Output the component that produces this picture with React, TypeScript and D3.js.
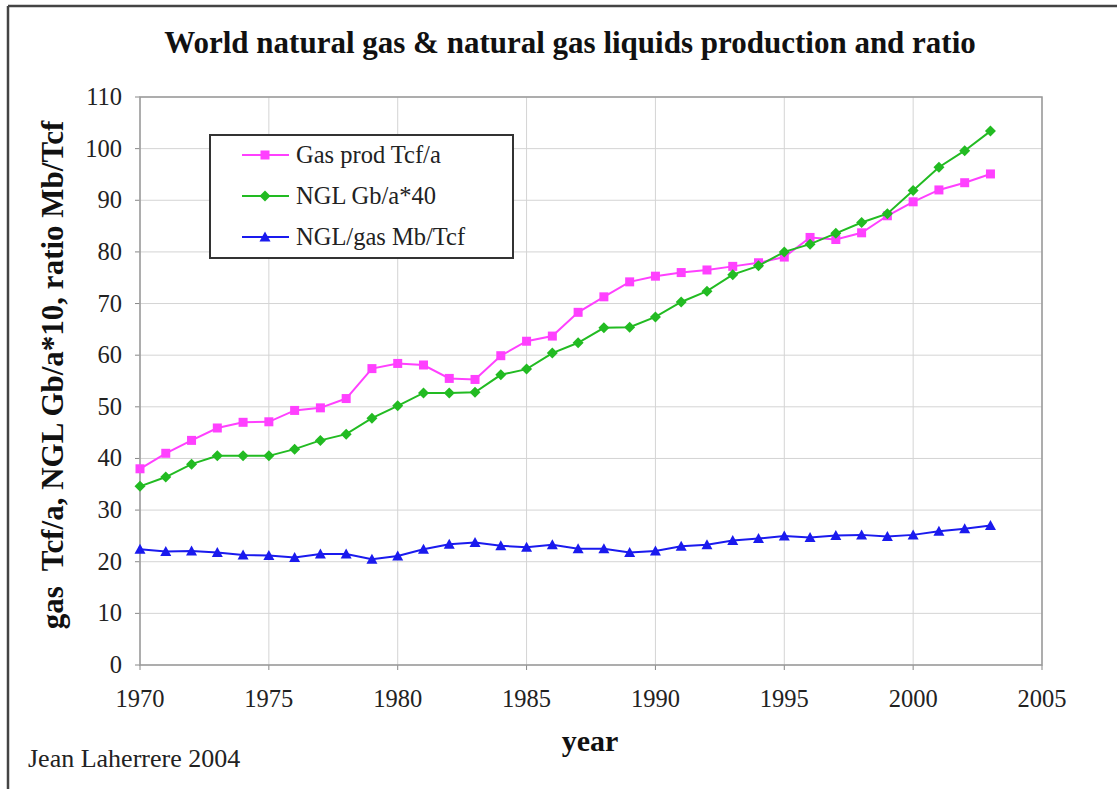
import React from "react";
import * as d3 from "d3";

const years = d3.range(1970, 2004);
const gasProd = [38.0, 41.0, 43.5, 45.9, 47.0, 47.1, 49.3, 49.8, 51.6, 57.4, 58.4, 58.1, 55.5, 55.3, 59.9, 62.7, 63.7, 68.3, 71.3, 74.2, 75.3, 76.0, 76.5, 77.2, 77.9, 79.0, 82.8, 82.4, 83.7, 87.0, 89.7, 92.0, 93.4, 95.1];
const nglGb40 = [34.6, 36.4, 38.9, 40.5, 40.5, 40.5, 41.8, 43.5, 44.7, 47.8, 50.2, 52.7, 52.7, 52.8, 56.2, 57.3, 60.4, 62.4, 65.3, 65.4, 67.4, 70.3, 72.4, 75.6, 77.3, 80.0, 81.5, 83.6, 85.7, 87.4, 91.9, 96.4, 99.6, 103.4];
const nglRatio = [22.4, 22.0, 22.1, 21.8, 21.3, 21.2, 20.8, 21.5, 21.5, 20.5, 21.1, 22.4, 23.4, 23.7, 23.1, 22.8, 23.3, 22.5, 22.5, 21.8, 22.1, 23.0, 23.3, 24.1, 24.5, 25.0, 24.7, 25.1, 25.2, 24.9, 25.2, 25.9, 26.4, 27.0];
const xTicks = [1970, 1975, 1980, 1985, 1990, 1995, 2000, 2005];
const yTicks = [0, 10, 20, 30, 40, 50, 60, 70, 80, 90, 100, 110];
const seriesNames = ["Gas prod Tcf/a", "NGL Gb/a*40", "NGL/gas Mb/Tcf"];

const W = 1117, H = 789;
const L = 140, R = 1042, T = 97, B = 665;
const FONT = "'Liberation Serif', 'Times New Roman', serif";

function Marker({ type, x, y, color }: { type: string; x: number; y: number; color: string }) {
  if (type === "square") return <rect x={x - 4.5} y={y - 4.5} width={9} height={9} fill={color} />;
  if (type === "diamond") return <path d={`M${x},${y - 5.5}L${x + 5.5},${y}L${x},${y + 5.5}L${x - 5.5},${y}Z`} fill={color} />;
  return <path d={`M${x},${y - 5.5}L${x + 5.5},${y + 4.5}L${x - 5.5},${y + 4.5}Z`} fill={color} />;
}

export default function App() {
  const x = d3.scaleLinear().domain([1970, 2005]).range([L, R]);
  const y = d3.scaleLinear().domain([0, 110]).range([B, T]);
  const series = [
    { name: seriesNames[0], data: gasProd, color: "#ff40ff", marker: "square" },
    { name: seriesNames[1], data: nglGb40, color: "#22bb22", marker: "diamond" },
    { name: seriesNames[2], data: nglRatio, color: "#1a1aee", marker: "triangle" },
  ];
  const line = d3.line<number>().x((_, i) => x(years[i])).y((d) => y(d));
  return (
    <svg width={W} height={H} style={{ position: "absolute", left: 0, top: 0, background: "#fff" }} fontFamily={FONT}>
      <rect x={0} y={0} width={W} height={H} fill="#fff" />
      <line x1={8} y1={6} x2={W} y2={6} stroke="#444" strokeWidth={2.5} />
      <line x1={8} y1={6} x2={8} y2={H} stroke="#444" strokeWidth={2.5} />
      <text x={570} y={53} textAnchor="middle" fontSize={31} fontWeight="bold" fill="#111">
        World natural gas &amp; natural gas liquids production and ratio
      </text>
      {yTicks.map((t) => (
        <g key={"y" + t}>
          <line x1={L} x2={R} y1={y(t)} y2={y(t)} stroke="#d4d4d4" strokeWidth={1} />
          <line x1={L - 5} x2={L} y1={y(t)} y2={y(t)} stroke="#888" />
          <text x={122} y={y(t) + 8} textAnchor="end" fontSize={24.5} fill="#222">{t}</text>
        </g>
      ))}
      {xTicks.map((t) => (
        <g key={"x" + t}>
          <line x1={x(t)} x2={x(t)} y1={T} y2={B} stroke="#d4d4d4" strokeWidth={1} />
          <line x1={x(t)} x2={x(t)} y1={B} y2={B + 5} stroke="#888" />
          <text x={x(t)} y={707} textAnchor="middle" fontSize={24.5} fill="#222">{t}</text>
        </g>
      ))}
      <rect x={L} y={T} width={R - L} height={B - T} fill="none" stroke="#999" strokeWidth={1.5} />
      {series.map((s) => (
        <g key={s.name}>
          <path d={line(s.data) || ""} fill="none" stroke={s.color} strokeWidth={2} />
          {s.data.map((v, i) => (
            <Marker key={i} type={s.marker} x={x(years[i])} y={y(v)} color={s.color} />
          ))}
        </g>
      ))}
      <rect x={210} y={135} width={303} height={123} fill="#fff" stroke="#333" strokeWidth={2} />
      {series.map((s, i) => {
        const cy = 155 + i * 41;
        return (
          <g key={"leg" + i}>
            <line x1={242} x2={289} y1={cy} y2={cy} stroke={s.color} strokeWidth={2} />
            <Marker type={s.marker} x={265} y={cy} color={s.color} />
            <text x={296} y={cy + 8} fontSize={24.5} fill="#222">{s.name}</text>
          </g>
        );
      })}
      <text transform={`translate(63,375) rotate(-90)`} textAnchor="middle" fontSize={31} fontWeight="bold" fill="#111" style={{ whiteSpace: "pre" }}>
        {"gas  Tcf/a, NGL Gb/a*10, ratio Mb/Tcf"}
      </text>
      <text x={590} y={751} textAnchor="middle" fontSize={30} fontWeight="bold" fill="#111">year</text>
      <text x={28} y={767} fontSize={26} fill="#222">Jean Laherrere 2004</text>
    </svg>
  );
}
